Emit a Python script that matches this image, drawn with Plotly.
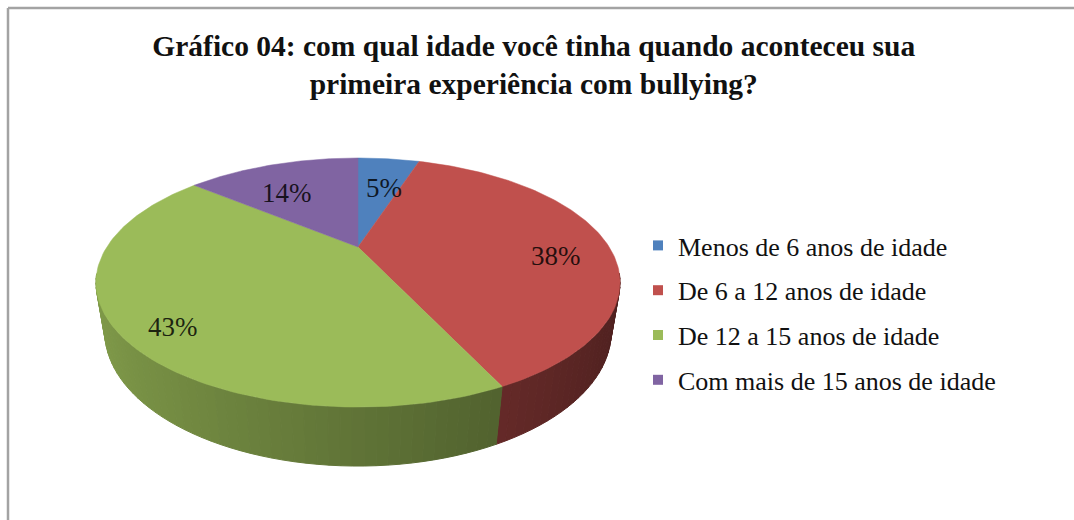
import numpy as np
import plotly.graph_objects as go

# Age at first bullying experience (share of respondents, %)
categories = [
    "Menos de 6 anos de idade",
    "De 6 a 12 anos de idade",
    "De 12 a 15 anos de idade",
    "Com mais de 15 anos de idade",
]
percentages = [5, 38, 43, 14]
slice_colors = ["#4f81bd", "#c0504d", "#9bbb59", "#8064a2"]

title_text = ("<b>Gráfico 04: com qual idade você tinha quando aconteceu sua"
              "<br>primeira experiência com bullying?</b>")

W, H = 1074, 520
SERIF = "Liberation Serif, Times New Roman, serif"

# Perspective view of a tilted disk (the 3-D pie), in pixel space
CX, CY = 358.0, 247.0
PHI = np.radians(27.1)
D0 = 3.121
FOCAL = 783.9
THICK = 0.22
LABEL_R = 0.80


def project(x, z, h):
    c, s = np.cos(PHI), np.sin(PHI)
    up = h * c + z * s
    depth = D0 + z * c - h * s
    return CX + x * FOCAL / depth, CY - up * FOCAL / depth


def hex_rgb(col):
    col = col.lstrip("#")
    return tuple(int(col[i:i + 2], 16) for i in (0, 2, 4))


def shade(col, theta):
    # darker towards the right, lighter towards the left of the rim
    f = 0.62 - 0.22 * np.sin(theta)
    r, g, b = hex_rgb(col)
    return f"rgb({int(r * f)},{int(g * f)},{int(b * f)})"


fracs = np.array(percentages, dtype=float) / sum(percentages)
bounds = np.concatenate([[0.0], np.cumsum(fracs)]) * 2 * np.pi

fig = go.Figure()

# Rim (side wall) pieces, drawn far-to-near
rim = []
for i, col in enumerate(slice_colors):
    a0, a1 = bounds[i], bounds[i + 1]
    n = max(2, int(np.degrees(a1 - a0) / 2))
    edges = np.linspace(a0, a1, n + 1)
    for t0, t1 in zip(edges[:-1], edges[1:]):
        tm = 0.5 * (t0 + t1)
        if np.cos(tm) > -0.22:
            continue
        ts = np.linspace(t0, t1, 4)
        xs_top, ys_top = project(np.sin(ts), np.cos(ts), 0.0)
        xs_bot, ys_bot = project(np.sin(ts[::-1]), np.cos(ts[::-1]), -THICK)
        depth = np.cos(tm)
        rim.append((depth, np.concatenate([xs_top, xs_bot]),
                    np.concatenate([ys_top, ys_bot]), shade(col, tm)))

for _, xs, ys, c in sorted(rim, key=lambda r: -r[0]):
    fig.add_trace(go.Scatter(
        x=np.append(xs, xs[0]), y=np.append(ys, ys[0]), mode="lines",
        fill="toself", fillcolor=c, line=dict(color=c, width=1),
        hoverinfo="skip", showlegend=False))

# Top faces of the slices
for i, col in enumerate(slice_colors):
    ts = np.linspace(bounds[i], bounds[i + 1], 120)
    ax, ay = project(np.sin(ts), np.cos(ts), 0.0)
    xs = np.concatenate([[CX], ax, [CX]])
    ys = np.concatenate([[CY], ay, [CY]])
    fig.add_trace(go.Scatter(
        x=xs, y=ys, mode="lines", fill="toself", fillcolor=col,
        line=dict(color=col, width=0.5), hoverinfo="skip",
        showlegend=False))

# Percentage labels at the middle of each slice
for i, p in enumerate(percentages):
    tm = 0.5 * (bounds[i] + bounds[i + 1])
    lx, ly = project(LABEL_R * np.sin(tm), LABEL_R * np.cos(tm), 0.0)
    fig.add_annotation(x=lx, y=ly, text=f"{p}%", showarrow=False,
                       yshift=-15,
                       font=dict(family=SERIF, size=27,
                                 color="rgba(0,0,0,0.82)"))

# Legend entries
for cat, col in zip(categories, slice_colors):
    fig.add_trace(go.Scatter(
        x=[None], y=[None], mode="markers", name=cat, legendgroup=cat,
        marker=dict(symbol="square", size=10, color=col)))

# Chart-area frame
fig.add_shape(type="line", xref="x", yref="y", x0=8, y0=H, x1=8, y1=8,
              line=dict(color="#a3a3a3", width=2.5))
fig.add_shape(type="line", xref="x", yref="y", x0=8, y0=8, x1=W, y1=8,
              line=dict(color="#a3a3a3", width=2.5))

fig.update_layout(
    width=W, height=H,
    margin=dict(l=0, r=0, t=0, b=0),
    paper_bgcolor="white", plot_bgcolor="white",
    xaxis=dict(range=[0, W], visible=False, fixedrange=True),
    yaxis=dict(range=[H, 0], visible=False, fixedrange=True),
    title=dict(text=title_text, x=0.497, xanchor="center",
               y=1 - 56 / H, yanchor="top",
               font=dict(family=SERIF, size=29.5, color="#111111"),
               ),
    legend=dict(x=638 / W, xanchor="left", y=1 - 222 / H, yanchor="top",
                font=dict(family=SERIF, size=26, color="#111111"),
                bgcolor="rgba(0,0,0,0)", tracegroupgap=8,
                itemclick=False, itemdoubleclick=False),
    showlegend=True,
)

fig.write_html("out.html")
